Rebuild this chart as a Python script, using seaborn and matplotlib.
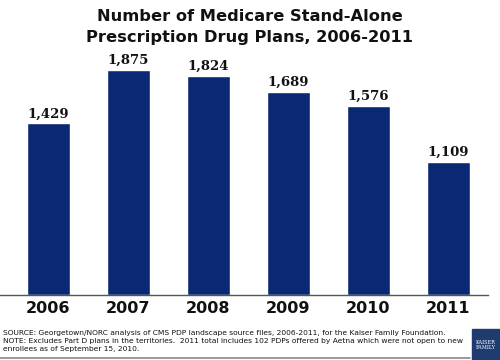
import matplotlib
matplotlib.use("Agg")
import matplotlib.pyplot as plt
import seaborn as sns
import pandas as pd

# data
years = ["2006", "2007", "2008", "2009", "2010", "2011"]
plans = [1429, 1875, 1824, 1689, 1576, 1109]

title = "Number of Medicare Stand-Alone\nPrescription Drug Plans, 2006-2011"
source_note = ("SOURCE: Georgetown/NORC analysis of CMS PDP landscape source files, 2006-2011, for the Kaiser Family Foundation.\n"
               "NOTE: Excludes Part D plans in the territories.  2011 total includes 102 PDPs offered by Aetna which were not open to new\n"
               "enrollees as of September 15, 2010.")

df = pd.DataFrame({"year": years, "plans": plans})

sns.set_theme(style="white")
plt.rcParams['font.family'] = ['DejaVu Sans']

fig = plt.figure(figsize=(5, 3.6), dpi=100)
ax = fig.add_axes([0.0, 0.1806, 0.976, 0.653])

sns.barplot(data=df, x="year", y="plans", color="#0a2873", width=0.54,
            saturation=1, ax=ax)

for i, v in enumerate(plans):
    ax.text(i, v + 25, f"{v:,}", ha="center", va="bottom", fontsize=9.5,
            fontweight="bold", family="DejaVu Serif", color="#111111")

ax.set_xlim(-0.606, 5.494)
ax.set_ylim(0, 1958)
ax.set_xlabel("")
ax.set_ylabel("")
ax.set_yticks([])
for s in ["top", "right", "left"]:
    ax.spines[s].set_visible(False)
ax.spines["bottom"].set_color("#555555")
ax.spines["bottom"].set_linewidth(1.0)
ax.tick_params(axis="x", length=0, pad=4, labelsize=11.5)
for lbl in ax.get_xticklabels():
    lbl.set_fontweight("bold")
    lbl.set_color("#111111")

fig.text(0.5, 0.926, title, ha="center", va="center", fontsize=11.7,
         fontweight="bold", color="#111111", linespacing=1.5)

fig.text(0.006, 0.053, source_note, ha="left", va="center", fontsize=5.4,
         color="#111111", linespacing=1.45)

# bottom rule and logo box
fig.add_artist(plt.Line2D([0.0, 0.94], [0.006, 0.006], color="#888888", lw=1.2))
fig.add_artist(plt.Rectangle((0.944, 0.0), 0.056, 0.085, color="#1f3c6e"))
fig.text(0.972, 0.042, "KAISER\nFAMILY", ha="center", va="center", fontsize=3.6,
         color="white", family="DejaVu Serif", linespacing=1.0)

fig.savefig("out.png", dpi=100)
